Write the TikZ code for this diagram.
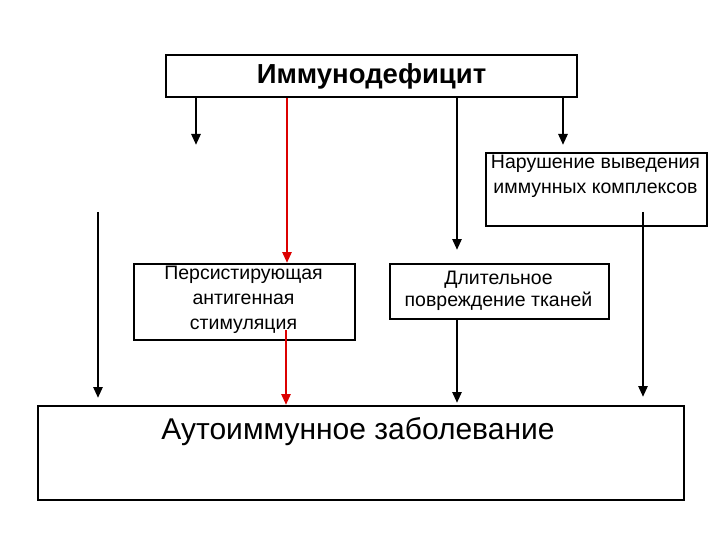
\documentclass[tikz,border=0pt]{standalone}
\usepackage{fontspec}
\setmainfont{Liberation Sans}
\usetikzlibrary{arrows.meta}
\definecolor{myred}{RGB}{220,0,0}
\begin{document}
\begin{tikzpicture}[x=1pt,y=-1pt,
  box/.style={draw,line width=2pt,inner sep=0pt},
  arr/.style={line width=2.6pt,-{Triangle[length=11pt,width=9pt]}},
  redarr/.style={arr,draw=myred}]
\useasboundingbox (0,0) rectangle (720,540);
\node[box,minimum width=411pt,minimum height=42pt] (top) at (371.5,76) {};
\node[font=\bfseries\fontsize{27.5}{30}\selectfont] (topt) at (371.5,76) {Иммунодефицит};
\node[box,minimum width=221pt,minimum height=73pt,anchor=north west] (nar) at (485,152) {};
\node[font=\fontsize{19.5}{25}\selectfont,align=center] (nart) at (595.5,176.5) {Нарушение выведения\\иммунных комплексов};
\node[box,minimum width=221pt,minimum height=76pt,anchor=north west] (per) at (133,263) {};
\node[font=\fontsize{19.5}{25}\selectfont,align=center] (pert) at (243.5,300) {Персистирующая\\антигенная\\стимуляция};
\node[box,minimum width=219pt,minimum height=55pt,anchor=north west] (dl) at (389,263) {};
\node[font=\fontsize{19.5}{22}\selectfont,align=center] (dlt) at (498.5,291) {Длительное\\повреждение тканей};
\node[box,minimum width=646pt,minimum height=94pt,anchor=north west] (auto) at (37,405) {};
\node[font=\fontsize{30}{34}\selectfont] (autot) at (358,432) {Аутоиммунное заболевание};
\coordinate (a1) at (196,145);
\coordinate (a4) at (563,145);
\coordinate (s98) at (98,212);
\coordinate (e98) at (98,398);
\draw[arr] (top.south -| a1) -- (a1);
\draw[redarr] (top.south -| per.north) ++(42.5,0) coordinate (r1) -- (r1 |- per.north);
\draw[arr] (top.south -| 457,0) -- (457,250) coordinate (b1);
\draw[arr] (top.south -| a4) -- (a4);
\draw[arr] (s98) -- (e98);
\draw[redarr] (286,330) coordinate (r2) -- (r2 |- auto.north);
\draw[arr] (dl.south -| 457,0) -- (457,403) coordinate (b2);
\draw[arr] (643,212) coordinate (c1) -- (643,397);
\end{tikzpicture}
\end{document}
